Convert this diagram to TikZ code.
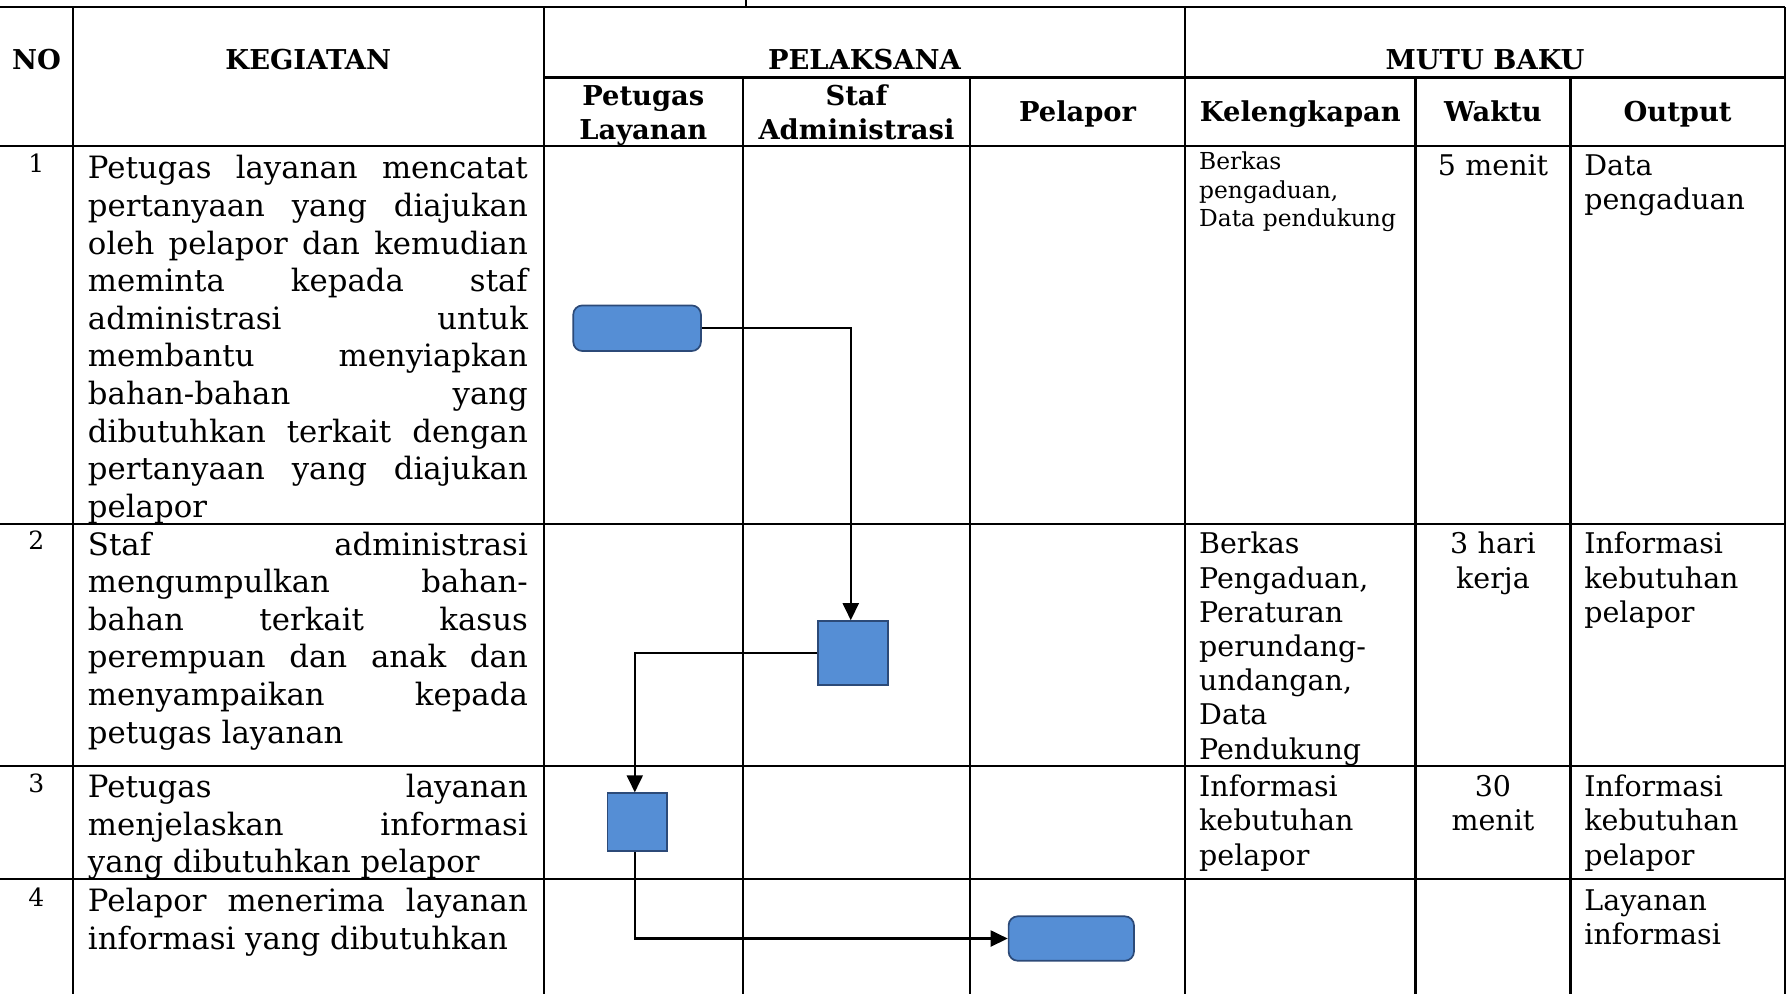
\documentclass[tikz,border=0pt]{standalone}
\usepackage{fontspec}
\setmainfont{DejaVu Serif}
\newfontfamily\hdrfam{DejaVu Serif}
\usetikzlibrary{arrows.meta}
\definecolor{boxfill}{RGB}{85,142,213}
\definecolor{boxline}{RGB}{44,74,120}
\tolerance=10000
\hyphenpenalty=10000
\exhyphenpenalty=10000
\tikzset{
  grid/.style={line width=1.9pt, black},
  conn/.style={line width=2pt, black, -{Triangle[length=15pt,width=14pt]}},
  flowbox/.style={draw=boxline, fill=boxfill, line width=1.5pt, inner sep=0pt},
  hdr/.style={anchor=base, inner sep=0pt, font=\hdrfam\bfseries\fontsize{24}{29}\selectfont},
  hdrtwo/.style={hdr, text width=190pt, align=center},
  num/.style={anchor=base, inner sep=0pt, font=\fontsize{22}{26}\selectfont},
  kg/.style={anchor=base west, inner sep=0pt, text width=386pt, align=justify, font=\fontsize{27}{33}\selectfont},
  cell/.style={anchor=base west, inner sep=0pt, text width=185pt, align=left, font=\fontsize{25}{30}\selectfont},
  cellsmall/.style={cell, font=\fontsize{20.5}{25}\selectfont},
  cellc/.style={anchor=base, inner sep=0pt, text width=136pt, align=center, font=\fontsize{25}{30}\selectfont},
}
\begin{document}
\begin{tikzpicture}[x=1pt,y=-1pt]
\useasboundingbox (0,0) rectangle (1568,872);
% table grid
\draw[grid] (654.5,0) -- (654.5,6);
\draw[grid] (0,6) -- (1566,6);
\draw[grid] (477,68) -- (1566,68);
\draw[grid] (0,128) -- (1566,128);
\draw[grid] (0,460) -- (1566,460);
\draw[grid] (0,672) -- (1566,672);
\draw[grid] (0,771) -- (1566,771);
\draw[grid] (64,6) -- (64,872);
\draw[grid] (477,6) -- (477,872);
\draw[grid] (652,68) -- (652,872);
\draw[grid] (851,68) -- (851,872);
\draw[grid] (1040,6) -- (1040,872);
\draw[grid] (1242,68) -- (1242,872);
\draw[grid] (1378,68) -- (1378,872);
\draw[grid] (1566,6) -- (1566,872);
% headers
\node[hdr] (hno) at (32,61) {NO};
\node[hdr] (hkeg) at (270.5,61) {KEGIATAN};
\node[hdr] (hpel) at (758.5,61) {PELAKSANA};
\node[hdr] (hmutu) at (1303,61) {MUTU BAKU};
\node[hdrtwo] (hpet) at (564.5,93) {Petugas\\Layanan};
\node[hdrtwo] (hstaf) at (751.5,93) {Staf\\Administrasi};
\node[hdr] (hplp) at (945.5,107) {Pelapor};
\node[hdr] (hkel) at (1141,107) {Kelengkapan};
\node[hdr] (hwkt) at (1310,107) {Waktu};
\node[hdr] (hout) at (1472,107) {Output};
% numbers
\node[num] (n1) at (32,151) {1};
\node[num] (n2) at (32,482) {2};
\node[num] (n3) at (32,695) {3};
\node[num] (n4) at (32,795) {4};
% kegiatan
\node[kg] (k1) at (77,157) {Petugas layanan mencatat\linebreak pertanyaan yang diajukan\linebreak oleh pelapor dan kemudian\linebreak meminta kepada staf\linebreak administrasi untuk\linebreak membantu menyiapkan\linebreak bahan-bahan yang\linebreak dibutuhkan terkait dengan\linebreak pertanyaan yang diajukan\linebreak pelapor};
\node[kg] (k2) at (77,487) {Staf administrasi\linebreak mengumpulkan bahan-\linebreak bahan terkait kasus\linebreak perempuan dan anak dan\linebreak menyampaikan kepada\linebreak petugas layanan};
\node[kg] (k3) at (77,700) {Petugas layanan\linebreak menjelaskan informasi\linebreak yang dibutuhkan pelapor};
\node[kg] (k4) at (77,800) {Pelapor menerima layanan\linebreak informasi yang dibutuhkan};
% kelengkapan
\node[cellsmall] (l1) at (1052,149) {Berkas\\pengaduan,\\Data pendukung};
\node[cell] (l2) at (1052,486) {Berkas\\Pengaduan,\\Peraturan\\perundang-\\undangan,\\Data\\Pendukung};
\node[cell] (l3) at (1052,699) {Informasi\\kebutuhan\\pelapor};
% waktu
\node[cellc] (w1) at (1310,154) {5 menit};
\node[cellc] (w2) at (1310,486) {3 hari\\kerja};
\node[cellc] (w3) at (1310,699) {30\\menit};
% output
\node[cell] (o1) at (1390,154) {Data\\pengaduan};
\node[cell] (o2) at (1390,486) {Informasi\\kebutuhan\\pelapor};
\node[cell] (o3) at (1390,699) {Informasi\\kebutuhan\\pelapor};
\node[cell] (o4) at (1390,799) {Layanan\\informasi};
% flow shapes
\node[flowbox, rounded corners=8pt, minimum width=112pt, minimum height=40pt] (start) at (559,288) {};
\node[flowbox, minimum width=61pt, minimum height=56pt] (s2) at (748.5,573) {};
\node[flowbox, minimum width=52pt, minimum height=51pt] (s3) at (559,721.5) {};
\node[flowbox, rounded corners=8pt, minimum width=110pt, minimum height=39pt] (finish) at (940,823.5) {};
% connectors
\draw[conn] (start.east) -| ([xshift=-2pt]s2.north);
\draw[conn] (s2.west) -| ([xshift=-2pt]s3.north);
\draw[conn] ([xshift=-2pt]s3.south) |- (finish.west);
\end{tikzpicture}
\end{document}
